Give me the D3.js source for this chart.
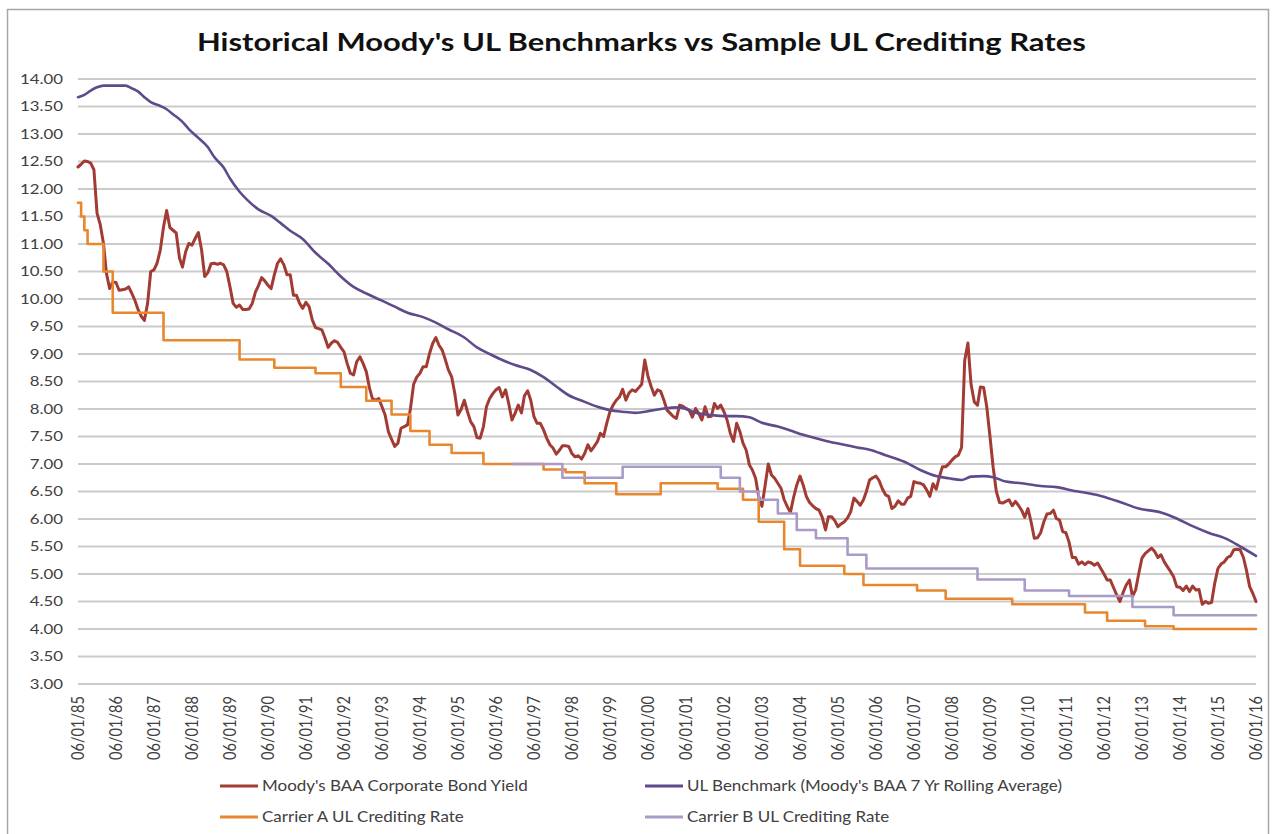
<!DOCTYPE html>
<html>
<head>
<meta charset="utf-8">
<script src="https://cdn.jsdelivr.net/npm/d3@7"></script>
<style>
  body { margin: 0; background: #fff; }
  svg { display: block; }
  text { font-family: Lato, "Open Sans", sans-serif; }
</style>
</head>
<body>
<div id="chart"></div>
<script>
// Moody's BAA yield, one value per month starting 06/1985
var baaStart = "1985-06";
var baaYield = [
  12.40, 12.45, 12.51, 12.50, 12.47, 12.35, 11.56,
  11.35, 11.01, 10.47, 10.19, 10.31, 10.30, 10.16, 10.17, 10.18, 10.22, 10.10, 9.97,
  9.80, 9.68, 9.61, 9.92, 10.50, 10.53, 10.65, 10.89, 11.31, 11.61, 11.30, 11.25,
  11.20, 10.75, 10.58, 10.86, 11.01, 10.98, 11.10, 11.21, 10.89, 10.41, 10.48, 10.64,
  10.65, 10.63, 10.65, 10.62, 10.50, 10.22, 9.92, 9.85, 9.89, 9.81, 9.81, 9.82,
  9.92, 10.13, 10.24, 10.39, 10.33, 10.25, 10.19, 10.44, 10.65, 10.73, 10.62, 10.44,
  10.44, 10.07, 10.07, 9.92, 9.83, 9.94, 9.86, 9.62, 9.48, 9.46, 9.44, 9.29,
  9.12, 9.20, 9.24, 9.21, 9.12, 9.04, 8.83, 8.65, 8.62, 8.86, 8.95, 8.83,
  8.68, 8.38, 8.19, 8.16, 8.19, 8.04, 7.89, 7.59, 7.45, 7.32, 7.38, 7.65,
  7.68, 7.71, 8.00, 8.45, 8.58, 8.65, 8.77, 8.77, 9.01, 9.19, 9.30, 9.16,
  9.07, 8.89, 8.71, 8.59, 8.29, 7.89, 7.99, 8.16, 7.95, 7.77, 7.68, 7.48,
  7.47, 7.68, 8.04, 8.19, 8.28, 8.35, 8.39, 8.22, 8.35, 8.10, 7.80, 7.92,
  8.07, 7.93, 8.24, 8.33, 8.16, 7.86, 7.74, 7.74, 7.62, 7.47, 7.35, 7.29,
  7.18, 7.25, 7.33, 7.33, 7.32, 7.19, 7.13, 7.15, 7.09, 7.19, 7.35, 7.24,
  7.32, 7.41, 7.56, 7.50, 7.74, 7.95, 8.07, 8.16, 8.22, 8.36, 8.16, 8.29,
  8.35, 8.32, 8.38, 8.45, 8.89, 8.59, 8.41, 8.25, 8.35, 8.32, 8.16, 7.98,
  7.92, 7.86, 7.83, 8.07, 8.05, 8.01, 7.98, 7.85, 8.01, 7.92, 7.80, 8.04,
  7.86, 7.87, 8.10, 8.01, 8.07, 7.95, 7.80, 7.56, 7.41, 7.74, 7.59, 7.38,
  7.25, 6.98, 6.89, 6.74, 6.41, 6.23, 6.60, 7.00, 6.80, 6.74, 6.65, 6.56,
  6.35, 6.22, 6.12, 6.40, 6.62, 6.78, 6.62, 6.41, 6.30, 6.24, 6.19, 6.16,
  6.03, 5.80, 6.04, 6.04, 5.97, 5.86, 5.91, 5.95, 6.02, 6.13, 6.38, 6.32,
  6.25, 6.35, 6.50, 6.71, 6.75, 6.78, 6.70, 6.55, 6.44, 6.41, 6.19, 6.23,
  6.33, 6.27, 6.27, 6.38, 6.41, 6.68, 6.66, 6.65, 6.62, 6.53, 6.41, 6.64,
  6.54, 6.77, 6.95, 6.95, 7.00, 7.07, 7.13, 7.16, 7.30, 8.88, 9.20, 8.45,
  8.13, 8.07, 8.40, 8.39, 8.04, 7.50, 6.95, 6.50, 6.30, 6.29, 6.32, 6.35,
  6.24, 6.32, 6.25, 6.16, 6.03, 6.19, 5.95, 5.65, 5.66, 5.75, 5.95, 6.09,
  6.10, 6.16, 6.01, 5.98, 5.77, 5.75, 5.58, 5.30, 5.30, 5.18, 5.22, 5.17,
  5.22, 5.20, 5.16, 5.20, 5.10, 5.00, 4.89, 4.89, 4.75, 4.62, 4.50, 4.66,
  4.80, 4.89, 4.59, 4.71, 5.01, 5.29, 5.37, 5.42, 5.47, 5.41, 5.30, 5.35,
  5.22, 5.13, 5.05, 4.95, 4.77, 4.76, 4.70, 4.78, 4.68, 4.78, 4.71, 4.72,
  4.45, 4.50, 4.47, 4.48, 4.83, 5.10, 5.18, 5.22, 5.30, 5.33, 5.44, 5.45,
  5.44, 5.30, 5.07, 4.77, 4.65, 4.50
];

// UL benchmark (7 yr rolling average), read at points along the curve
var benchmark = [
  ["1985-06", 13.67], ["1985-08", 13.71], ["1985-10", 13.79], ["1985-12", 13.85],
  ["1986-02", 13.88], ["1986-05", 13.88], ["1986-09", 13.88], ["1986-11", 13.83],
  ["1987-01", 13.77], ["1987-03", 13.67], ["1987-05", 13.58], ["1987-08", 13.51],
  ["1987-10", 13.45], ["1987-12", 13.36], ["1988-03", 13.22], ["1988-05", 13.09],
  ["1988-08", 12.93], ["1988-11", 12.76], ["1989-01", 12.58], ["1989-04", 12.39],
  ["1989-06", 12.19], ["1989-09", 11.95], ["1989-12", 11.77], ["1990-03", 11.63],
  ["1990-07", 11.51], ["1990-10", 11.38], ["1991-01", 11.24], ["1991-05", 11.09],
  ["1991-09", 10.84], ["1992-01", 10.64], ["1992-05", 10.41], ["1992-09", 10.22],
  ["1993-01", 10.10], ["1993-06", 9.97], ["1993-10", 9.86], ["1994-02", 9.75],
  ["1994-07", 9.67], ["1994-11", 9.57], ["1995-03", 9.45], ["1995-08", 9.30],
  ["1995-12", 9.12], ["1996-04", 9.00], ["1996-08", 8.89], ["1996-12", 8.80],
  ["1997-05", 8.71], ["1997-09", 8.58], ["1998-01", 8.41], ["1998-05", 8.25],
  ["1998-10", 8.13], ["1999-02", 8.04], ["1999-06", 7.98], ["1999-10", 7.95],
  ["2000-02", 7.93], ["2000-07", 7.97], ["2000-11", 8.01], ["2001-04", 8.03],
  ["2001-09", 7.93], ["2002-02", 7.89], ["2002-06", 7.87], ["2002-10", 7.87],
  ["2003-02", 7.85], ["2003-06", 7.75], ["2003-11", 7.68], ["2004-03", 7.61],
  ["2004-07", 7.53], ["2004-11", 7.47], ["2005-03", 7.41], ["2005-08", 7.35],
  ["2005-12", 7.30], ["2006-04", 7.26], ["2006-09", 7.16], ["2007-03", 7.04],
  ["2007-08", 6.89], ["2008-01", 6.78], ["2008-05", 6.74], ["2008-09", 6.71],
  ["2008-12", 6.77], ["2009-04", 6.78], ["2009-07", 6.76], ["2009-11", 6.68],
  ["2010-04", 6.65], ["2010-10", 6.60], ["2011-03", 6.58], ["2011-08", 6.52],
  ["2012-05", 6.42], ["2012-11", 6.31], ["2013-05", 6.19], ["2013-12", 6.12],
  ["2014-05", 6.01], ["2014-10", 5.87], ["2015-03", 5.75], ["2015-09", 5.63],
  ["2016-01", 5.50], ["2016-06", 5.33]
];

// crediting rates: month the rate took effect, rate
var carrierA = [
  ["1985-06", 11.75], ["1985-07", 11.50], ["1985-08", 11.25], ["1985-09", 11.00],
  ["1986-02", 10.50], ["1986-05", 9.75], ["1987-09", 9.25], ["1989-09", 8.90],
  ["1990-08", 8.75], ["1991-09", 8.65], ["1992-05", 8.40], ["1993-01", 8.15],
  ["1993-09", 7.90], ["1994-03", 7.60], ["1994-09", 7.35], ["1995-04", 7.20],
  ["1996-02", 7.00], ["1997-09", 6.90], ["1998-04", 6.85], ["1998-10", 6.65],
  ["1999-08", 6.45], ["2000-10", 6.65], ["2002-04", 6.55], ["2002-12", 6.35],
  ["2003-05", 5.95], ["2004-01", 5.45], ["2004-06", 5.15], ["2005-08", 5.00],
  ["2006-02", 4.80], ["2007-07", 4.70], ["2008-04", 4.55], ["2010-01", 4.45],
  ["2011-12", 4.30], ["2012-07", 4.15], ["2013-07", 4.05], ["2014-04", 4.00],
  ["2016-06", 4.00]
];
var carrierB = [
  ["1996-11", 7.00], ["1998-03", 6.75], ["1999-10", 6.95], ["2002-05", 6.75],
  ["2002-11", 6.50], ["2003-05", 6.35], ["2003-11", 6.10], ["2004-05", 5.80],
  ["2004-11", 5.65], ["2005-09", 5.35], ["2006-03", 5.10], ["2009-02", 4.90],
  ["2010-05", 4.70], ["2011-07", 4.60], ["2013-03", 4.40], ["2014-04", 4.25],
  ["2016-06", 4.25]
];

var seriesNames = [
  "Moody's BAA Corporate Bond Yield",
  "UL Benchmark (Moody's BAA 7 Yr Rolling Average)",
  "Carrier A UL Crediting Rate",
  "Carrier B UL Crediting Rate"
];
var seriesColors = ["#A23B33", "#5F4B8B", "#E8872E", "#A99BC8"];
var titleText = "Historical Moody's UL Benchmarks vs Sample UL Crediting Rates";
var tickYears = d3.range(1985, 2017);
var yMin = 3, yMax = 14, yStep = 0.5;

var width = 1274, height = 834;
var parseMonth = d3.utcParse("%Y-%m");
var fmtTick = d3.utcFormat("%m/%d/%y");

var svg = d3.select("#chart").append("svg")
    .attr("width", width)
    .attr("height", height);

// chart frame
svg.append("rect")
    .attr("x", 7.5).attr("y", 9.5)
    .attr("width", 1261).attr("height", 840)
    .attr("fill", "none")
    .attr("stroke", "#a6a6a6")
    .attr("stroke-width", 1.5);

var x = d3.scaleUtc()
    .domain([parseMonth("1985-06"), parseMonth("2016-06")])
    .range([78, 1256]);
var y = d3.scaleLinear()
    .domain([yMin, yMax])
    .range([684, 79]);

// title, stretched to the reference width
var title = svg.append("text")
    .attr("font-size", 25)
    .attr("font-weight", "bold")
    .attr("fill", "#111")
    .text(titleText);
var tw = title.node().getComputedTextLength();
title.attr("transform", "translate(197,51) scale(" + (889 / tw) + ",1)");

// gridlines + y labels
var yTicks = d3.range(yMin, yMax + yStep / 2, yStep);
svg.append("g").selectAll("line")
    .data(yTicks)
    .enter().append("line")
    .attr("x1", 78).attr("x2", 1256)
    .attr("y1", function(d) { return y(d); })
    .attr("y2", function(d) { return y(d); })
    .attr("stroke", "#cbcbcb")
    .attr("stroke-width", 2);

var yLab = svg.append("g");
var probe = yLab.append("text").attr("font-size", 13.5).text("14.00");
var ySx = 43 / probe.node().getComputedTextLength();
probe.remove();
yLab.selectAll("text")
    .data(yTicks)
    .enter().append("text")
    .attr("font-size", 13.5)
    .attr("fill", "#404040")
    .attr("text-anchor", "end")
    .attr("dy", "0.36em")
    .attr("transform", function(d) { return "translate(63," + y(d) + ") scale(" + ySx + ",1)"; })
    .text(function(d) { return d3.format(".2f")(d); });

// x labels, rotated
var tickDates = tickYears.map(function(yr) { return parseMonth(yr + "-06"); });
var xLab = svg.append("g");
var xProbe = xLab.append("text").attr("font-size", 13).text("06/01/85");
var xFs = 13 * 64 / xProbe.node().getComputedTextLength();
xProbe.remove();
xLab.selectAll("text")
    .data(tickDates)
    .enter().append("text")
    .attr("font-size", xFs)
    .attr("fill", "#404040")
    .attr("text-anchor", "end")
    .attr("dy", "0.36em")
    .attr("transform", function(d) { return "translate(" + x(d) + ",696) scale(1.15,1) rotate(-90)"; })
    .text(function(d) { return fmtTick(d); });

// series
var baaData = baaYield.map(function(v, i) {
    return [d3.utcMonth.offset(parseMonth(baaStart), i), v];
});
var toPts = function(arr) { return arr.map(function(d) { return [parseMonth(d[0]), d[1]]; }); };

var lineLinear = d3.line()
    .x(function(d) { return x(d[0]); })
    .y(function(d) { return y(d[1]); });
var lineSmooth = d3.line()
    .curve(d3.curveMonotoneX)
    .x(function(d) { return x(d[0]); })
    .y(function(d) { return y(d[1]); });
var lineStep = d3.line()
    .curve(d3.curveStepAfter)
    .x(function(d) { return x(d[0]); })
    .y(function(d) { return y(d[1]); });

var plot = svg.append("g")
    .attr("fill", "none")
    .attr("stroke-linejoin", "round")
    .attr("stroke-linecap", "round");
plot.append("path").attr("d", lineLinear(baaData))
    .attr("stroke", seriesColors[0]).attr("stroke-width", 3);
plot.append("path").attr("d", lineSmooth(toPts(benchmark)))
    .attr("stroke", seriesColors[1]).attr("stroke-width", 2.6);
plot.append("path").attr("d", lineStep(toPts(carrierA)))
    .attr("stroke", seriesColors[2]).attr("stroke-width", 2.6);
plot.append("path").attr("d", lineStep(toPts(carrierB)))
    .attr("stroke", seriesColors[3]).attr("stroke-width", 2.6);

// legend, two columns
var legendPos = [[220, 786], [645, 786], [220, 817], [645, 817]];
var legend = svg.append("g");
var lProbe = legend.append("text").attr("font-size", 14.5).text(seriesNames[0]);
var lSx = 266 / lProbe.node().getComputedTextLength();
lProbe.remove();
seriesNames.forEach(function(name, i) {
    var p = legendPos[i];
    legend.append("line")
        .attr("x1", p[0]).attr("x2", p[0] + 38)
        .attr("y1", p[1]).attr("y2", p[1])
        .attr("stroke", seriesColors[i])
        .attr("stroke-width", 3);
    legend.append("text")
        .attr("font-size", 14.5)
        .attr("fill", "#404040")
        .attr("dy", "0.36em")
        .attr("transform", "translate(" + (p[0] + 42) + "," + p[1] + ") scale(" + lSx + ",1)")
        .text(name);
});
</script>
</body>
</html>
